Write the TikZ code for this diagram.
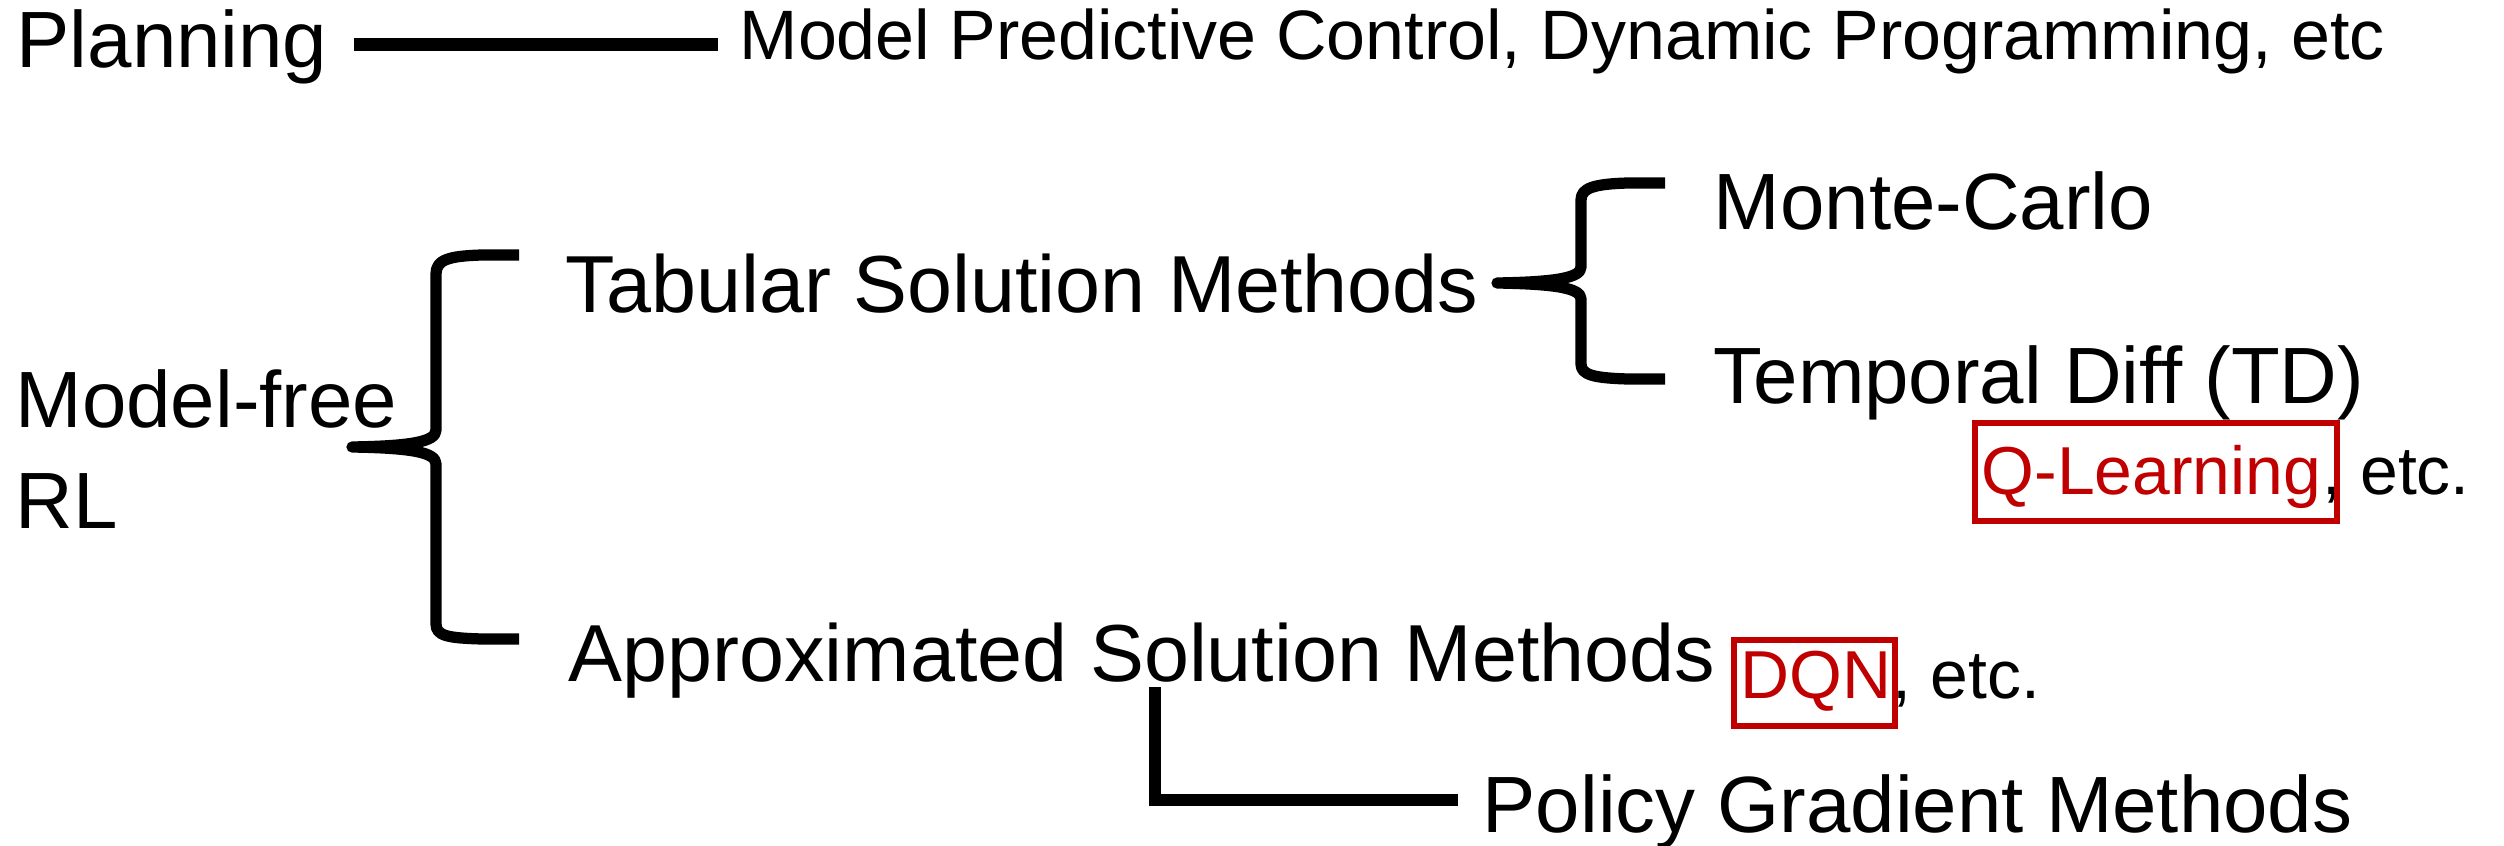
\documentclass[tikz,border=0pt]{standalone}
\usepackage{fontspec}
\setmainfont{Liberation Sans}
\definecolor{boxred}{HTML}{C00000}
\begin{document}
\begin{tikzpicture}[x=0.01cm, y=-0.01cm,
  lbl/.style={inner sep=0pt, anchor=base west, font=\fontsize{22.7}{27}\selectfont},
  lblbig/.style={lbl, font=\fontsize{23}{27}\selectfont},
  small/.style={inner sep=0pt, anchor=base west, font=\fontsize{19.3}{23}\selectfont},
  conn/.style={line width=3.55pt, black},
  bracestroke/.style={line width=3.2pt, black, line join=round},
  redbox/.style={draw=boxred, line width=1.7pt}]
\useasboundingbox (0,0) rectangle (2504,846);

% labels
\node[lbl] (plan) at (16,68) {Planning};
\node[lbl, font=\fontsize{19.9}{24}\selectfont] (mpc) at (739,60) {Model Predictive Control, Dynamic Programming, etc};
\node[lbl] (mf) at (15,427) {Model-free};
\node[lbl] (rl) at (15,528) {RL};
\node[lblbig] (tab) at (565,313) {Tabular Solution Methods};
\node[lblbig] (app) at (568,681) {Approximated Solution Methods};
\node[lbl] (mc) at (1713,230) {Monte-Carlo};
\node[lbl] (td) at (1713,403) {Temporal Diff (TD)};
\node[small, text=boxred] (ql) at (1981,494) {Q-Learning};
\node[small] (qletc) at (ql.base east) {, etc.};
\node[small, text=boxred] (dqn) at (1740,698) {DQN};
\node[small] (dqnetc) at (dqn.base east) {, etc.};
\node[lbl] (pg) at (1482,832) {Policy Gradient Methods};

% highlight boxes
\draw[redbox] ([shift={(-6,-71)}]ql.base west) rectangle ([shift={(15,27)}]ql.base east);
\draw[redbox] ([shift={(-6,-58)}]dqn.base west) rectangle ([shift={(3,28)}]dqn.base east);

% planning link
\draw[conn] ([shift={(26,-23.5)}]plan.base east) -- ([shift={(-21,-15.5)}]mpc.base west);

% brace: model-free RL -> tabular / approximated
\coordinate (mftip) at (352,447);
\draw[bracestroke] (519,255) -- (482,255)
  .. controls (448,256) and (436,260) .. (436,274) -- (436,430)
  .. controls (436,442) and (410,446) .. (mftip)
  .. controls (410,448) and (436,452) .. (436,464) -- (436,624)
  .. controls (436,636) and (448,638) .. (482,639) -- (519,639);

% brace: tabular -> monte-carlo / TD
\coordinate (tabtip) at (1497,283);
\draw[bracestroke] (1665,183) -- (1628,183)
  .. controls (1594,184) and (1581,188) .. (1581,200) -- (1581,267)
  .. controls (1581,278) and (1555,282) .. (tabtip)
  .. controls (1555,284) and (1581,288) .. (1581,299) -- (1581,364)
  .. controls (1581,375) and (1594,378) .. (1628,379) -- (1665,379);

% approximated -> policy gradient
\draw[conn] ([shift={(587,6)}]app.base west) |- ([shift={(-24,-32)}]pg.base west);
\end{tikzpicture}
\end{document}
